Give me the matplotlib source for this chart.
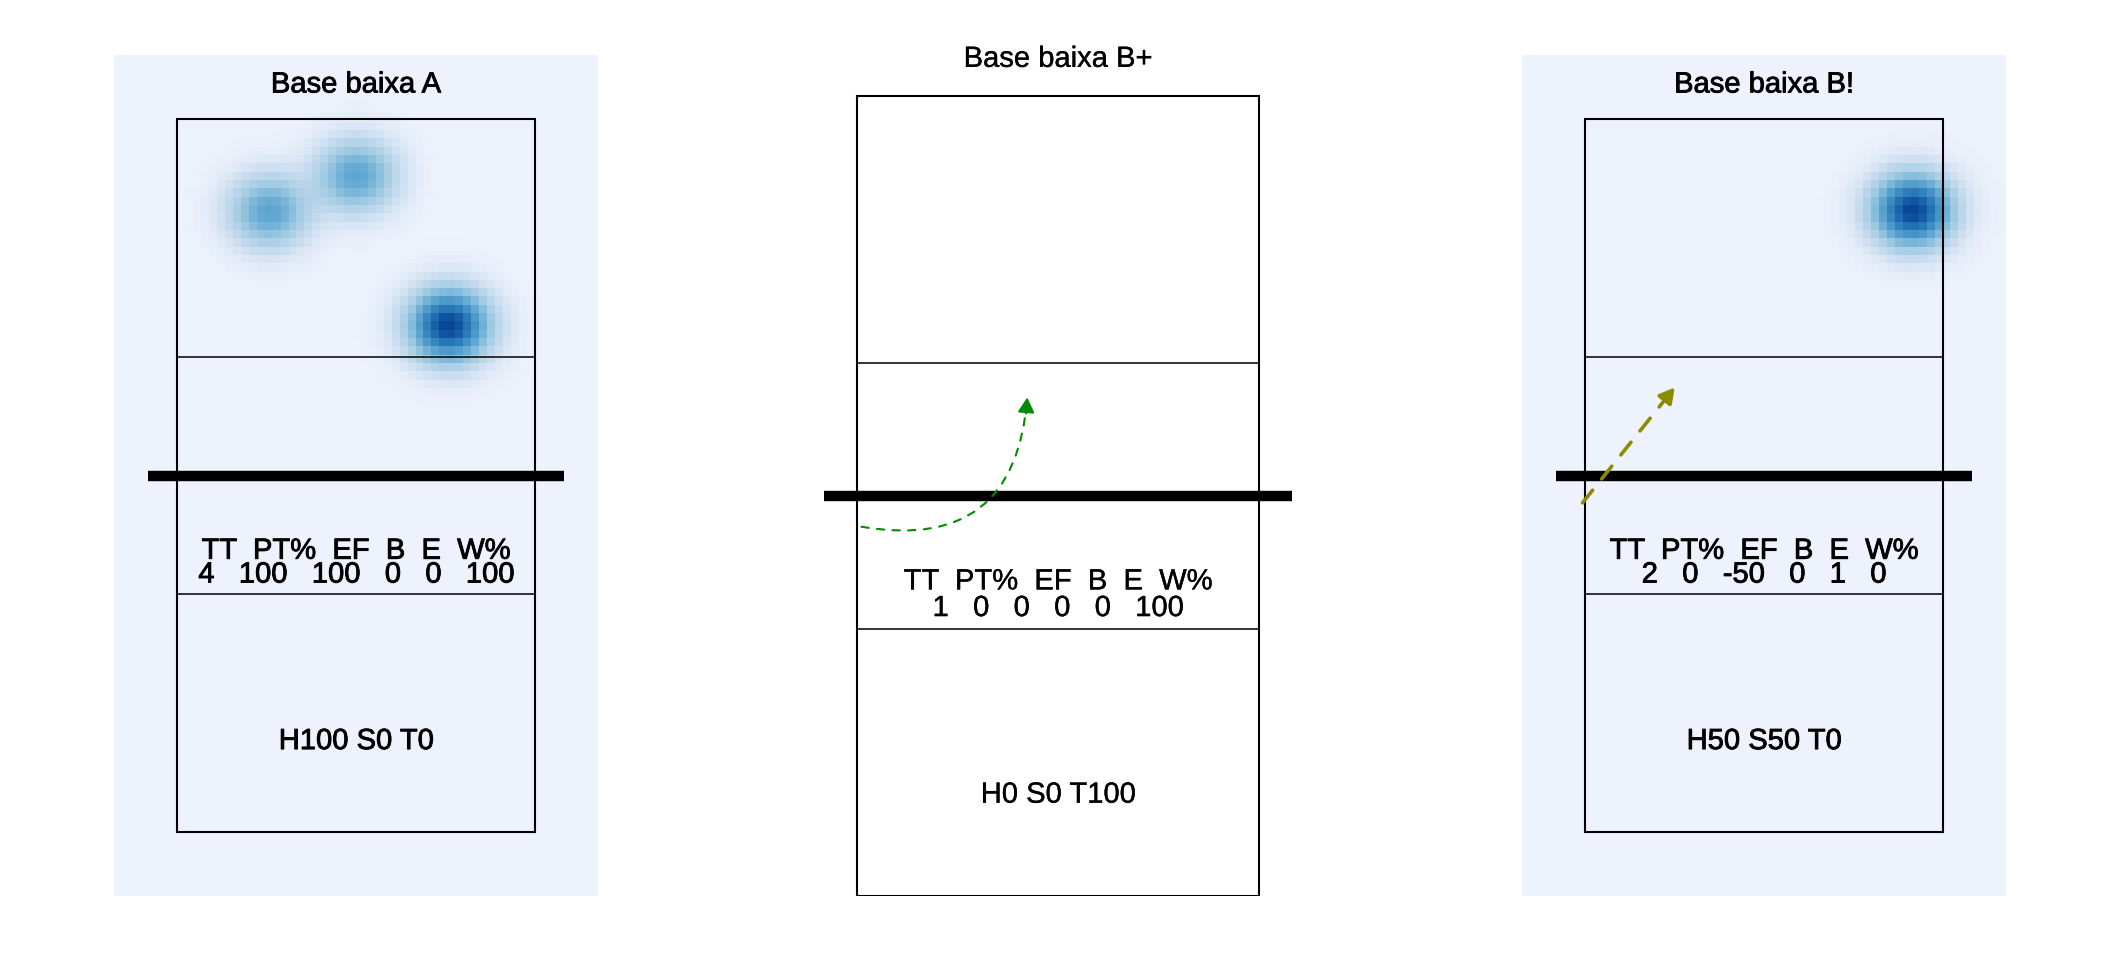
import numpy as np
import matplotlib
matplotlib.use('Agg')
import matplotlib.pyplot as plt
import matplotlib.patheffects as pe
from matplotlib.colors import LinearSegmentedColormap, PowerNorm
from matplotlib.patches import FancyArrowPatch, Rectangle

plt.rcParams['font.family'] = ['Liberation Sans', 'DejaVu Sans']

titles = ['Base baixa A', 'Base baixa B+', 'Base baixa B!']
stat_names = ['TT', 'PT%', 'EF', 'B', 'E', 'W%']
stat_values = [
    [4, 100, 100, 0, 0, 100],
    [1, 0, 0, 0, 0, 100],
    [2, 0, -50, 0, 1, 0],
]
hit_pct = [100, 0, 50]
set_pct = [0, 0, 50]
tip_pct = [0, 100, 0]

# attack end points (court coordinates) for the density layer
end_x = [[1.27, 2.0, 2.78, 2.78], [], [3.25]]
end_y = [[5.72, 6.02, 4.76, 4.76], [], [5.73]]

# attack trajectory arrows
arrow_from = [None, (0.53, 3.27), (0.475, 3.27)]
arrow_to = [None, (1.77, 4.24), (1.25, 4.24)]
arrow_col = [None, '#008B00', '#8B8B00']
arrow_rad = [0.0, 0.55, 0.0]
arrow_lw = [0.0, 1.5, 2.6]
arrow_dash = [None, (3.5, 4), (4.5, 4)]

BLUES = LinearSegmentedColormap.from_list(
    'blues', ['#EEF2FC', '#C6DBEF', '#9ECAE1', '#6BAED6', '#4292C6', '#2171B5', '#084594'])

W, H = 2112, 960
# axes boxes in pixels: left, top, right, bottom
boxes = [(114, 55, 598, 896), (824, 29.5, 1292, 896), (1522, 55, 2006, 896)]
# density grid: 61 x 101 points over [0, 4] x [0, 7], raster cells centred on them
NX, NY = 61, 101
HX, HY = 2 / (NX - 1), 3.5 / (NY - 1)
RASTER = (-HX, 4 + HX, -HY, 7 + HY)
limits = [RASTER, (0.25, 3.75, 0.5, 7.0), RASTER]
# text weight differs slightly between the shaded and plain panels
stroke_w = [0.6, 0.25, 0.6]


def draw_court(ax):
    ax.add_patch(Rectangle((0.5, 0.5), 3, 6, fill=False, ec='black', lw=1.5, zorder=3))
    for y in (2.5, 4.5):
        ax.plot([0.5, 3.5], [y, y], color='black', lw=1.1, zorder=3)
    ax.plot([0.25, 3.75], [3.5, 3.5], color='black', lw=7.5, solid_capstyle='butt', zorder=4)


def density(xs, ys, sx=0.22, sy=0.20):
    X, Y = np.meshgrid(np.linspace(0, 4, NX), np.linspace(0, 7, NY))
    d = np.zeros_like(X)
    for x, y in zip(xs, ys):
        d += np.exp(-((X - x) ** 2 / (2 * sx ** 2) + (Y - y) ** 2 / (2 * sy ** 2)))
    return d / d.max()


def main():
    fig = plt.figure(figsize=(W / 100, H / 100), dpi=100)
    for i in range(3):
        l, t, r, b = boxes[i]
        ax = fig.add_axes([l / W, (H - b) / H, (r - l) / W, (b - t) / H])
        x0, x1, y0, y1 = limits[i]
        ax.set_xlim(x0, x1)
        ax.set_ylim(y0, y1)
        ax.axis('off')

        if end_x[i]:
            d = density(end_x[i], end_y[i])
            ax.imshow(d, extent=RASTER, origin='lower', cmap=BLUES,
                      norm=PowerNorm(0.85, vmin=0, vmax=1),
                      interpolation='nearest', aspect='auto', zorder=1)

        draw_court(ax)

        if arrow_from[i] is not None:
            p0 = np.array(arrow_from[i])
            p2 = np.array(arrow_to[i])
            rad = arrow_rad[i]
            ax.add_patch(FancyArrowPatch(p0, p2, arrowstyle='-',
                                         connectionstyle=f'arc3,rad={rad}',
                                         linestyle=(0, arrow_dash[i]), lw=arrow_lw[i],
                                         color=arrow_col[i], shrinkA=0, shrinkB=0, zorder=5))
            mid = (p0 + p2) / 2
            dx, dy = p2 - p0
            ctrl = mid + rad * np.array([dy, -dx])
            tang = p2 - ctrl
            tang = tang / np.hypot(*tang)
            ax.add_patch(FancyArrowPatch(p2 - 0.12 * tang, p2,
                                         arrowstyle='-|>,head_length=0.45,head_width=0.25',
                                         mutation_scale=20, lw=arrow_lw[i],
                                         color=arrow_col[i], shrinkA=0, shrinkB=0, zorder=5))

        stroke = [pe.withStroke(linewidth=stroke_w[i], foreground='black')]
        kw = dict(ha='center', va='baseline', fontsize=21, zorder=6, path_effects=stroke)
        ax.text(2, 6.72, titles[i], **kw)
        ax.text(2, 2.80, '  '.join(stat_names), **kw)
        ax.text(2, 2.60, '   '.join(str(v) for v in stat_values[i]), **kw)
        ax.text(2, 1.20, f'H{hit_pct[i]} S{set_pct[i]} T{tip_pct[i]}', **kw)

    fig.savefig('out.png', dpi=100)


if __name__ == '__main__':
    main()
